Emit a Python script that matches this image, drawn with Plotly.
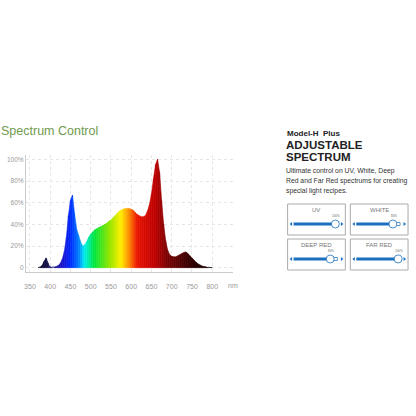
import plotly.graph_objects as go

# spectrum (relative intensity, %)
wavelength = list(range(370, 805, 5))
intensity = [0, 0.5, 2, 6, 9, 4, 1, 0.5, 0.5, 1, 2, 4, 8, 15, 28, 48, 62, 67, 50, 36,
             30, 24, 20, 21, 24, 28, 31, 33, 35, 36, 37, 38, 39, 40, 41, 43, 44, 46, 48, 50,
             52, 53, 54, 54.5, 54.5, 54.5, 54, 53, 51, 49, 48, 47, 47, 48, 52, 58, 68, 82, 95, 100,
             88, 62, 40, 25, 16, 12, 10.5, 10, 10, 11, 12, 13, 14, 14.5, 13, 11, 9, 7, 5, 3.5,
             2.5, 1.5, 1, 0.7, 0.4, 0.2, 0]
x_ticks = [350, 400, 450, 500, 550, 600, 650, 700, 750, 800]
y_ticks = [0, 20, 40, 60, 80, 100]
y_labels = ["0", "20%", "40%", "60%", "80%", "100%"]

channels = ["UV", "WHITE", "DEEP RED", "FAR RED"]
channel_pct = [100, 80, 80, 100]

FONT = "Liberation Sans"

# colour stops along the spectrum
stops = [(370, (10, 10, 40)), (395, (20, 20, 80)), (430, (30, 20, 200)), (450, (0, 40, 255)),
         (470, (0, 120, 255)), (485, (0, 240, 240)), (510, (0, 230, 60)), (545, (140, 230, 0)),
         (575, (255, 240, 0)), (595, (255, 140, 0)), (615, (235, 20, 0)), (660, (190, 0, 0)),
         (690, (120, 0, 0)), (740, (60, 0, 0)), (800, (15, 0, 0))]


def wl_color(w):
    for (a, ca), (b, cb) in zip(stops, stops[1:]):
        if a <= w <= b:
            t = (w - a) / (b - a)
            c = [round(ca[i] + (cb[i] - ca[i]) * t) for i in range(3)]
            return "rgb(%d,%d,%d)" % tuple(c)
    return "rgb(%d,%d,%d)" % (stops[-1][1] if w > 600 else stops[0][1])


fig = go.Figure()
for i in range(len(wavelength) - 1):
    x0, x1 = wavelength[i], wavelength[i + 1]
    y0, y1 = intensity[i], intensity[i + 1]
    col = wl_color((x0 + x1) / 2)
    fig.add_trace(go.Scatter(x=[x0, x1, x1, x0, x0], y=[y0, y1, 0, 0, y0], fill="toself",
                             fillcolor=col, line=dict(color=col, width=0.6), mode="lines",
                             hoverinfo="skip", showlegend=False))

W = 416.0


def px(x):
    return x / W


def py(y):
    return 1 - y / W


def label(text, x, y, size, color, xanchor="center"):
    fig.add_annotation(text=text, x=px(x), y=py(y), xref="paper", yref="paper", xanchor=xanchor,
                       yanchor="middle", showarrow=False, borderpad=0,
                       font=dict(size=size, color=color, family=FONT))


label("Spectrum Control", -2, 131, 12.5, "#6f9a4f", "left")
label("nm", 232, 285, 7, "#999")
label("<b>Model-H  Plus</b>", 285, 133, 8, "#222", "left")
label("<b>ADJUSTABLE</b>", 284, 145, 11.5, "#222", "left")
label("<b>SPECTRUM</b>", 284, 157, 11.5, "#222", "left")
label("Ultimate control on UV, White, Deep", 284, 171, 6.8, "#333", "left")
label("Red and Far Red spectrums for creating", 284, 181, 6.8, "#333", "left")
label("special light recipes.", 284, 191, 6.8, "#333", "left")

boxes = [(287, 204), (350, 204), (287, 239), (350, 239)]
for (bx, by), name, pct in zip(boxes, channels, channel_pct):
    fig.add_shape(type="rect", xref="paper", yref="paper", x0=px(bx), x1=px(bx + 58),
                  y0=py(by), y1=py(by + 31), line=dict(color="#aaa", width=1), fillcolor="white")
    label(name, bx + 29, by + 6, 6, "#777")
    sy = by + 20
    l, r = bx + 6, bx + 52
    k = l + (r - l) * pct / 100.0 - (4 if pct == 100 else 0)
    fig.add_shape(type="line", xref="paper", yref="paper", x0=px(l), x1=px(k), y0=py(sy), y1=py(sy),
                  line=dict(color="#1a6fc0", width=3))
    if pct < 100:
        fig.add_shape(type="rect", xref="paper", yref="paper", x0=px(k), x1=px(r - 2), y0=py(sy - 1.5),
                      y1=py(sy + 1.5), line=dict(color="#1a6fc0", width=0.7), fillcolor="white")
    fig.add_shape(type="circle", xref="paper", yref="paper", x0=px(k - 4), x1=px(k + 4),
                  y0=py(sy - 4), y1=py(sy + 4), line=dict(color="#1a6fc0", width=0.8), fillcolor="white")
    label("%d%%" % pct, k + 1, sy - 8, 3, "#666")
    # small end arrows
    for tip, base in [(bx + 2, bx + 4.5), (bx + 56, bx + 53.5)]:
        fig.add_shape(type="path", xref="paper", yref="paper",
                      path="M %f %f L %f %f L %f %f Z" % (px(tip), py(sy), px(base), py(sy - 2), px(base), py(sy + 2)),
                      fillcolor="#1a6fc0", line=dict(width=0))

fig.update_layout(
    width=416, height=416, margin=dict(l=0, r=0, t=0, b=0),
    paper_bgcolor="white", plot_bgcolor="white", font=dict(family=FONT),
    xaxis=dict(domain=[px(24), px(232)], range=[340, 851], tickvals=x_ticks, showgrid=True,
               gridcolor="#e6e6e6", griddash="dot", showline=True, linecolor="#ccc", zeroline=False,
               tickfont=dict(size=7, color="#999"), ticklabelstandoff=8, fixedrange=True),
    yaxis=dict(domain=[py(272), py(155)], range=[-4, 104], tickvals=y_ticks, ticktext=y_labels,
               showgrid=True, gridcolor="#e6e6e6", griddash="dot", showline=True, linecolor="#ccc",
               zeroline=False, tickfont=dict(size=6.5, color="#999"), fixedrange=True),
)
fig.write_html("out.html", config={"displayModeBar": False},
               post_script="document.body.style.margin='0';")
